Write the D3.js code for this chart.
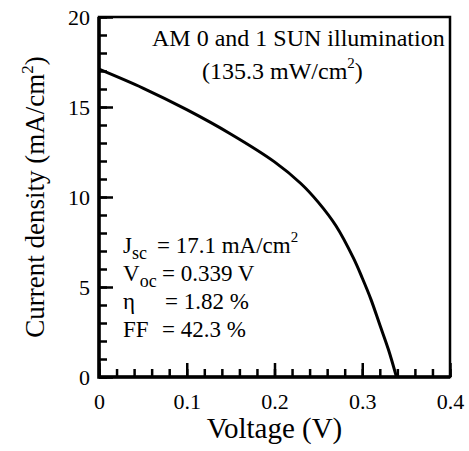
<!DOCTYPE html>
<style>
body { margin: 0; background: #fff; }
svg text { font-family: "Liberation Serif", "Times New Roman", Times, "DejaVu Serif", serif; fill: #000; }
.frame { fill: none; stroke: #000; stroke-width: 2.5px; }
.curve { fill: none; stroke: #000; stroke-width: 3px; }
.axis path { display: none; }
.axis line { stroke: #000; stroke-width: 2.5px; }
.axis text { font-size: 22px; }
.note { font-size: 24px; }
.stat { font-size: 23px; }
.title { font-size: 27px; }
</style>
<svg width="469" height="451"></svg>
<script src="https://d3js.org/d3.v7.min.js"></script>
<script>

// J-V curve
var voltage = [0, 0.05, 0.10, 0.15, 0.20, 0.23, 0.25, 0.27, 0.29, 0.30, 0.31, 0.32, 0.33, 0.339];
var current = [17.1, 16.05, 14.85, 13.5, 11.95, 10.75, 9.7, 8.4, 6.6, 5.5, 4.3, 2.9, 1.5, 0];

var xTicks = [0, 0.1, 0.2, 0.3, 0.4],
    yTicks = [0, 5, 10, 15, 20];
var xMinor = d3.range(0, 0.4001, 0.02),
    yMinor = d3.range(0, 20.001, 1);

var svg = d3.select('svg'),
    margin = {top: 17, right: 19, bottom: 74, left: 99},
    width = +svg.attr('width') - margin.left - margin.right,
    height = +svg.attr('height') - margin.top - margin.bottom;

var g = svg.append('g').attr('transform', 'translate(' + margin.left + ',' + margin.top + ')');

var x = d3.scaleLinear().domain([0, 0.4]).range([0, width]);
var y = d3.scaleLinear().domain([0, 20]).range([height, 0]);

// minor ticks, pointing in
g.append('g').attr('class', 'axis')
  .attr('transform', 'translate(0,' + height + ')')
  .call(d3.axisBottom(x).tickValues(xMinor).tickSize(-8).tickFormat(''));
g.append('g').attr('class', 'axis')
  .call(d3.axisLeft(y).tickValues(yMinor).tickSize(-8).tickFormat(''));

// major ticks with labels
g.append('g').attr('class', 'axis')
  .attr('transform', 'translate(0,' + height + ')')
  .call(d3.axisBottom(x).tickValues(xTicks).tickSize(-14).tickPadding(16)
    .tickFormat(function(d){ return d === 0 ? '0' : d3.format('.1f')(d) }));
g.append('g').attr('class', 'axis')
  .call(d3.axisLeft(y).tickValues(yTicks).tickSize(-14).tickPadding(9).tickFormat(d3.format('d')));

g.append('rect')
  .attr('class', 'frame')
  .attr('width', width)
  .attr('height', height);
// heavier left and bottom axis lines
g.append('path')
  .attr('d', 'M0,0V' + height + 'H' + width)
  .attr('fill', 'none').attr('stroke', '#000').attr('stroke-width', 3.5);

var line = d3.line()
  .x(function(d){ return x(d[0]) })
  .y(function(d){ return y(d[1]) })
  .curve(d3.curveCatmullRom);

g.append('path')
  .datum(voltage.map(function(v, i){ return [v, current[i]] }))
  .attr('class', 'curve')
  .attr('d', line);

// axis titles
svg.append('text').attr('class', 'title')
  .attr('x', margin.left + width / 2).attr('y', 438)
  .attr('text-anchor', 'middle')
  .style('font-size', '29px')
  .text('Voltage (V)');

var yt = svg.append('text').attr('class', 'title')
  .attr('transform', 'translate(44,' + (margin.top + height / 2) + ') rotate(-90)')
  .attr('text-anchor', 'middle');
yt.append('tspan').text('Current density (mA/cm');
yt.append('tspan').attr('dy', -11).style('font-size', '17px').text('2');
yt.append('tspan').attr('dy', 11).text(')');

// illumination note
svg.append('text').attr('class', 'note')
  .attr('x', 152).attr('y', 46)
  .text('AM 0 and 1 SUN illumination');
var il = svg.append('text').attr('class', 'note')
  .attr('x', 202).attr('y', 79);
il.append('tspan').text('(135.3 mW/cm');
il.append('tspan').attr('dy', -11).style('font-size', '15px').text('2');
il.append('tspan').attr('dy', 11).text(')');

// cell parameters
var labels = ['J', 'V', '\u03b7', 'FF'],
    subs = ['sc', 'oc', '', ''],
    values = ['= 17.1 mA/cm', '= 0.339 V', '= 1.82 %', '= 42.3 %'],
    sups = ['2', '', '', ''],
    rowY = [253, 281, 309, 337],
    valueX = [157, 162, 165, 162];

labels.forEach(function(lab, i){
  var t = svg.append('text').attr('class', 'stat').attr('x', 123).attr('y', rowY[i]);
  t.append('tspan').text(lab);
  if (subs[i]) t.append('tspan').attr('dy', 6).style('font-size', '18px').text(subs[i]);
  var v = svg.append('text').attr('class', 'stat').attr('x', valueX[i]).attr('y', rowY[i]);
  v.append('tspan').text(values[i]);
  if (sups[i]) v.append('tspan').attr('dy', -11).style('font-size', '15px').text(sups[i]);
});

</script>
